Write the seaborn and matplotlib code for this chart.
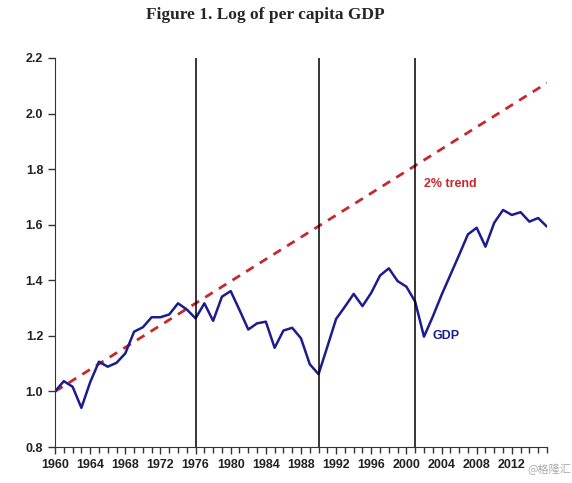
import matplotlib.pyplot as plt
import pandas as pd
import seaborn as sns
from matplotlib.ticker import MultipleLocator

years = list(range(1960, 2017))
gdp = [1.00, 1.037, 1.017, 0.941, 1.033, 1.107, 1.089, 1.103, 1.137, 1.215,
       1.231, 1.267, 1.267, 1.277, 1.317, 1.295, 1.263, 1.317, 1.254, 1.341,
       1.361, 1.293, 1.223, 1.245, 1.251, 1.157, 1.219, 1.229, 1.191, 1.098,
       1.062, 1.161, 1.261, 1.305, 1.351, 1.307, 1.355, 1.417, 1.443, 1.397,
       1.377, 1.323, 1.197, 1.269, 1.347, 1.419, 1.491, 1.565, 1.589, 1.521,
       1.607, 1.653, 1.635, 1.645, 1.611, 1.624, 1.593]
trend_years = [1960, 2016]
trend = [1.00, 2.11]
break_years = [1976, 1990, 2001]
ytick_vals = [0.8, 1.0, 1.2, 1.4, 1.6, 1.8, 2.0, 2.2]

df = pd.DataFrame({"year": years, "gdp": gdp})
tr = pd.DataFrame({"year": trend_years, "trend": trend})

sns.set_style("ticks")
plt.rcParams["font.family"] = ["Liberation Sans", "DejaVu Sans"]

fig = plt.figure(figsize=(5.72, 4.83), dpi=100)
ax = fig.add_axes([0.0962, 0.0745, 0.86, 0.8055])

sns.lineplot(data=tr, x="year", y="trend", ax=ax, color="#c8282d",
             linewidth=2, linestyle=(0, (3.2, 2.6)))
sns.lineplot(data=df, x="year", y="gdp", ax=ax, color="#1c1c8e", linewidth=1.8)
for y in break_years:
    ax.axvline(y, color="black", linewidth=1.1)

ax.set_xlim(1960, 2016)
ax.set_ylim(0.8, 2.2)
ax.set_xticks(range(1960, 2013, 4))
ax.xaxis.set_minor_locator(MultipleLocator(1))
ax.set_yticks(ytick_vals)
ax.set_yticklabels([f"{v:.1f}" for v in ytick_vals])
ax.tick_params(axis="both", which="major", labelsize=9, length=5, width=1, color="#333333")
ax.tick_params(axis="x", which="minor", length=4.5, width=1, color="#333333")
for lab in ax.get_xticklabels() + ax.get_yticklabels():
    lab.set_fontweight("bold")
    lab.set_color("#222222")
sns.despine(ax=ax)
ax.spines["left"].set_color("#333333")
ax.spines["bottom"].set_color("#333333")
ax.set_xlabel("")
ax.set_ylabel("")

ax.text(2002.0, 1.745, "2% trend", color="#c8282d", fontsize=9, fontweight="bold",
        va="center")
ax.text(2003.0, 1.20, "GDP", color="#1c1c8e", fontsize=9, fontweight="bold",
        va="center")

fig.text(0.463, 0.968, "Figure 1. Log of per capita GDP", ha="center", va="center",
         fontsize=12.5, fontweight="bold", family="Liberation Serif")
fig.text(0.999, 0.028, "@格隆汇", ha="right", va="center", fontsize=8, color="#aaaaaa",
         family=["Noto Sans CJK SC", "DejaVu Sans"])

fig.savefig("out.png", dpi=100)
